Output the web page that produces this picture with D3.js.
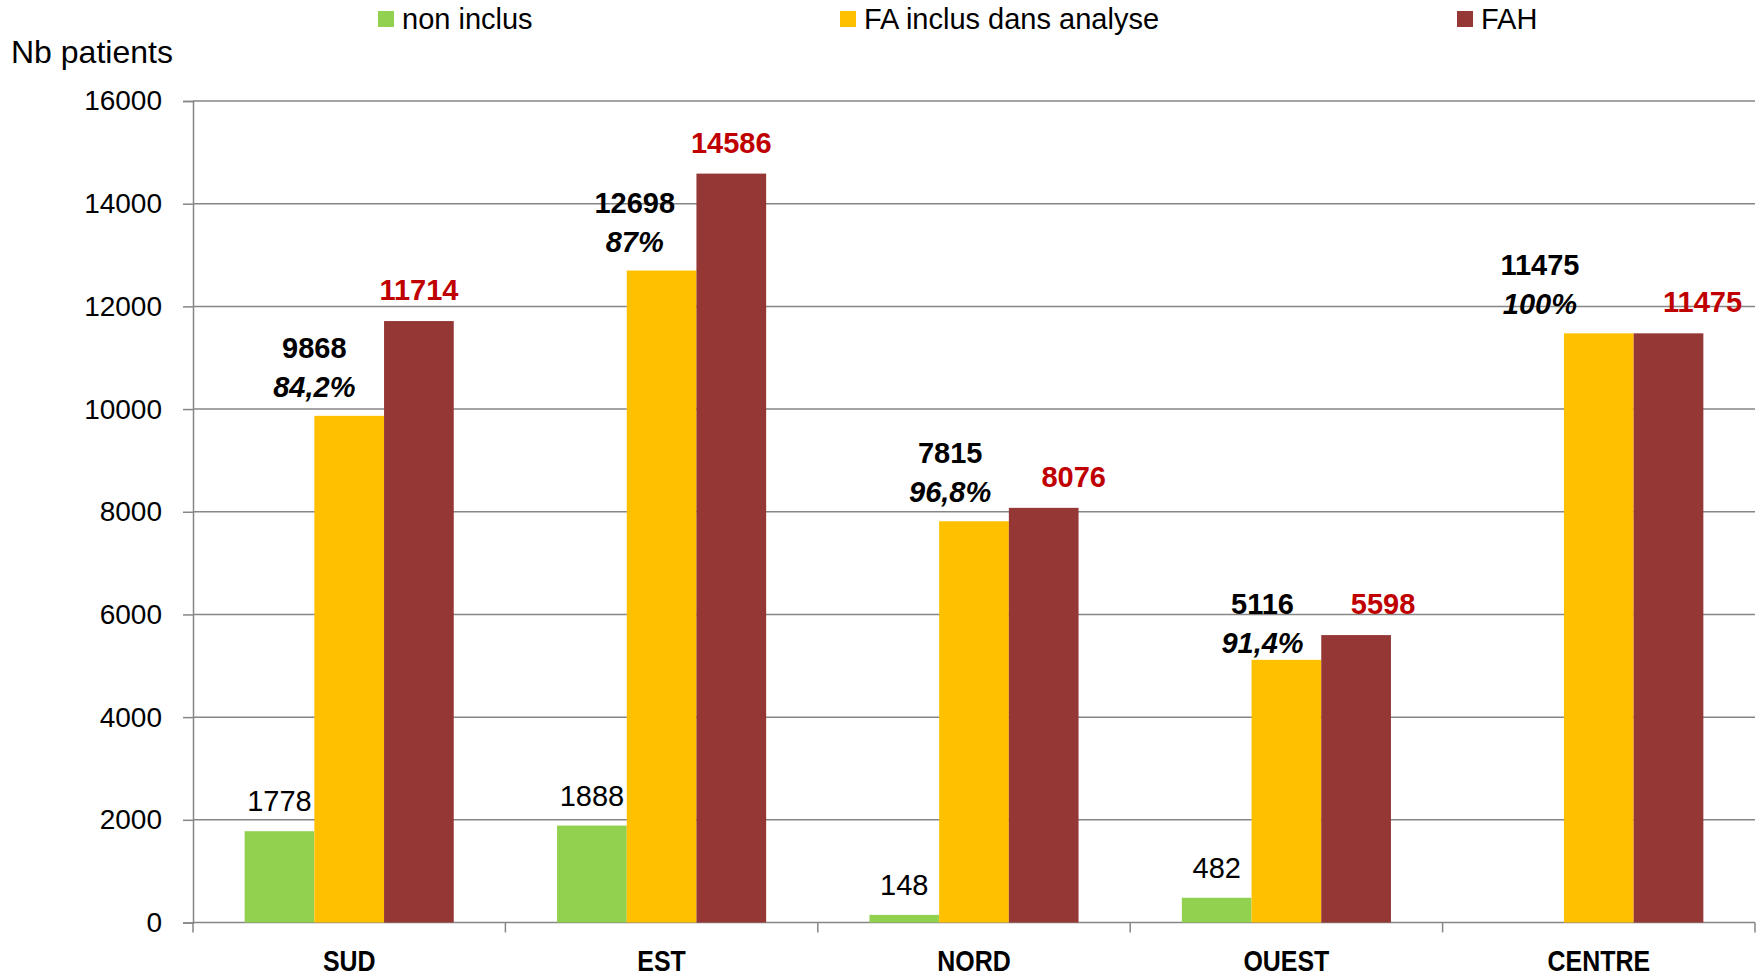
<!DOCTYPE html>
<html>
<head>
<meta charset="utf-8">
<script src="https://cdn.jsdelivr.net/npm/d3@7/dist/d3.min.js"></script>
<style>
  html, body { margin: 0; padding: 0; background: #fff; }
  svg { display: block; }
</style>
</head>
<body>
<div id="chart"></div>
<script>
// data
const regions = ["SUD", "EST", "NORD", "OUEST", "CENTRE"];
const seriesNames = ["non inclus", "FA inclus dans analyse", "FAH"];
const seriesColors = ["#92D050", "#FFC000", "#953735"];
const nonInclus = [1778, 1888, 148, 482, null];
const faInclus = [9868, 12698, 7815, 5116, 11475];
const fah = [11714, 14586, 8076, 5598, 11475];
const pctInclus = ["84,2%", "87%", "96,8%", "91,4%", "100%"];
const yTicks = [0, 2000, 4000, 6000, 8000, 10000, 12000, 14000, 16000];

const W = 1762, H = 978;
const margin = { top: 101, right: 7, bottom: 55.5, left: 193 };
const width = W - margin.left - margin.right;
const height = H - margin.top - margin.bottom;

const svg = d3.select("#chart").append("svg")
    .attr("width", W)
    .attr("height", H);

const g = svg.append("g")
    .attr("transform", `translate(${margin.left},${margin.top})`);

const x0 = d3.scaleBand().domain(regions).range([0, width]).padding(0);
const x1 = d3.scaleBand().domain(d3.range(3)).range([0, x0.bandwidth()])
    .paddingInner(0).paddingOuter(0.741);
const y = d3.scaleLinear().domain([0, 16000]).range([height, 0]);

const gridColor = "#868686";
const fontReg = "'Liberation Sans', Arial, sans-serif";

// gridlines
g.append("g").selectAll("line")
    .data(yTicks.filter(d => d > 0))
    .join("line")
    .attr("x1", 0).attr("x2", width)
    .attr("y1", d => y(d)).attr("y2", d => y(d))
    .attr("stroke", gridColor).attr("stroke-width", 1.5);

// y axis
const yAxis = g.append("g")
    .call(d3.axisLeft(y).tickValues(yTicks).tickSize(10).tickPadding(21).tickFormat(d3.format("d")));
yAxis.select(".domain").attr("stroke", gridColor).attr("stroke-width", 1.5);
yAxis.selectAll(".tick line").attr("stroke", gridColor).attr("stroke-width", 1.5);
yAxis.selectAll(".tick text")
    .attr("font-family", fontReg)
    .attr("font-size", "28px")
    .attr("fill", "#000");

// x axis line + ticks at band boundaries
const xb = g.append("g").attr("transform", `translate(0,${height})`);
xb.append("line").attr("x1", 0).attr("x2", width)
    .attr("stroke", gridColor).attr("stroke-width", 1.5);
xb.selectAll(".btick")
    .data(regions.map(r => x0(r)).concat([width]))
    .join("line")
    .attr("class", "btick")
    .attr("x1", d => d).attr("x2", d => d)
    .attr("y1", 0).attr("y2", 10)
    .attr("stroke", gridColor).attr("stroke-width", 1.5);
// condensed bold look of the original category labels
xb.selectAll(".cat")
    .data(regions)
    .join("text")
    .attr("class", "cat")
    .attr("transform", d => `translate(${x0(d) + x0.bandwidth() / 2},48) scale(0.86,1)`)
    .attr("text-anchor", "middle")
    .attr("font-family", fontReg)
    .attr("font-weight", "700")
    .attr("font-size", "29px")
    .attr("fill", "#000")
    .text(d => d);

// bars
const allSeries = [nonInclus, faInclus, fah];
const barData = [];
regions.forEach((r, i) => {
    allSeries.forEach((s, k) => {
        if (s[i] != null) barData.push({ region: r, k: k, value: s[i], i: i });
    });
});

g.append("g").selectAll("rect")
    .data(barData)
    .join("rect")
    .attr("x", d => x0(d.region) + x1(d.k))
    .attr("y", d => y(d.value))
    .attr("width", x1.bandwidth())
    .attr("height", d => height - y(d.value))
    .attr("fill", d => seriesColors[d.k]);

// labels were dragged by hand in the original, so small per-region nudges
const nudgeYellowX = { SUD: 0, EST: 8, NORD: 11, OUEST: 11, CENTRE: -24 };
const nudgeYellowY = { OUEST: 12 };
const nudgeRedX = { NORD: 30, OUEST: 27, CENTRE: 34 };

const labels = g.append("g");
// green: plain numbers
labels.selectAll(".lg")
    .data(barData.filter(d => d.k === 0))
    .join("text")
    .attr("x", d => x0(d.region) + x1(0) + x1.bandwidth() / 2)
    .attr("y", d => y(d.value) - 20)
    .attr("text-anchor", "middle")
    .attr("font-family", fontReg)
    .attr("font-size", "29px")
    .attr("fill", "#000")
    .text(d => d.value);

// yellow: bold number + bold italic percentage
const yl = barData.filter(d => d.k === 1);
const ylX = d => x0(d.region) + x1(1) + (nudgeYellowX[d.region] || 0);
const ylY = d => y(d.value) + (nudgeYellowY[d.region] || 0);
labels.selectAll(".ly1")
    .data(yl)
    .join("text")
    .attr("x", ylX)
    .attr("y", d => ylY(d) - 58)
    .attr("text-anchor", "middle")
    .attr("font-family", fontReg)
    .attr("font-weight", "700")
    .attr("font-size", "29px")
    .attr("fill", "#000")
    .text(d => d.value);
labels.selectAll(".ly2")
    .data(yl)
    .join("text")
    .attr("x", ylX)
    .attr("y", d => ylY(d) - 19)
    .attr("text-anchor", "middle")
    .attr("font-family", fontReg)
    .attr("font-weight", "700")
    .attr("font-style", "italic")
    .attr("font-size", "29px")
    .attr("fill", "#000")
    .text(d => pctInclus[d.i]);

// red: bold red numbers
labels.selectAll(".lr")
    .data(barData.filter(d => d.k === 2))
    .join("text")
    .attr("x", d => x0(d.region) + x1(2) + x1.bandwidth() / 2 + (nudgeRedX[d.region] || 0))
    .attr("y", d => y(d.value) - 21)
    .attr("text-anchor", "middle")
    .attr("font-family", fontReg)
    .attr("font-weight", "700")
    .attr("font-size", "29px")
    .attr("fill", "#C00000")
    .text(d => d.value);

// y title
svg.append("text")
    .attr("x", 11)
    .attr("y", 63)
    .attr("font-family", fontReg)
    .attr("font-size", "32px")
    .attr("fill", "#000")
    .text("Nb patients");

// legend
const legendX = [378, 840, 1457];
const legend = svg.append("g");
seriesNames.forEach((name, k) => {
    legend.append("rect")
        .attr("x", legendX[k]).attr("y", 11)
        .attr("width", 16).attr("height", 16)
        .attr("fill", seriesColors[k]);
    legend.append("text")
        .attr("x", legendX[k] + 24)
        .attr("y", 29)
        .attr("font-family", fontReg)
        .attr("font-size", "29px")
        .attr("fill", "#000")
        .text(name);
});
</script>
</body>
</html>
